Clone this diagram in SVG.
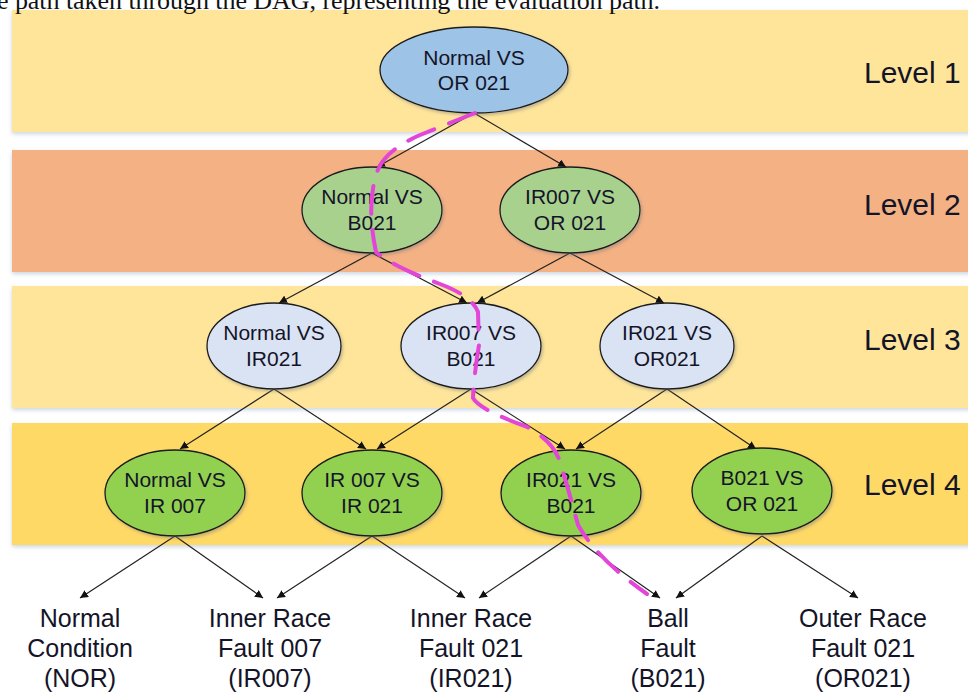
<svg xmlns="http://www.w3.org/2000/svg" width="968" height="695" viewBox="0 0 968 695">
<style>
.band{filter:url(#sh)}
.node ellipse{stroke:#1a1a1a;stroke-width:1.3}
.nt{font-family:"Liberation Sans",Arial,sans-serif;font-size:21px;fill:#141428;text-anchor:middle}
.lv{font-family:"Liberation Sans",Arial,sans-serif;font-size:30px;fill:#141428}
.lb{font-family:"Liberation Sans",Arial,sans-serif;font-size:25px;fill:#141428;text-anchor:middle}
.e{stroke:#222;stroke-width:1.2;fill:none;marker-end:url(#ah)}
.path{stroke:#e245d8;stroke-width:4;fill:none;stroke-dasharray:28 16;stroke-linecap:round}
</style>
<defs>
<filter id="sh" x="-5%" y="-10%" width="110%" height="130%">
<feDropShadow dx="0" dy="2" stdDeviation="2" flood-color="#8fa3c0" flood-opacity="0.45"/>
</filter>
<filter id="nsh" x="-10%" y="-10%" width="125%" height="130%">
<feDropShadow dx="1.5" dy="2" stdDeviation="1.5" flood-color="#7a7a7a" flood-opacity="0.45"/>
</filter>
<marker id="ah" viewBox="0 0 10 10" refX="10" refY="5" markerWidth="8" markerHeight="8" markerUnits="userSpaceOnUse" orient="auto">
<path d="M0,0 L10,5 L0,10 z" fill="#111"/>
</marker>
</defs>
<rect width="968" height="695" fill="#ffffff"/>

<g id="bands">
<rect class="band" x="12" y="10" width="960" height="122" fill="#fee59a"/>
<rect class="band" x="12" y="150" width="960" height="122" fill="#f4b183"/>
<rect class="band" x="12" y="286" width="960" height="122" fill="#fee59a"/>
<rect class="band" x="12" y="423" width="960" height="122" fill="#ffd966"/>
<text class="lv" x="864" y="83">Level 1</text>
<text class="lv" x="864" y="215">Level 2</text>
<text class="lv" x="864" y="350">Level 3</text>
<text class="lv" x="864" y="495">Level 4</text>
</g>
<text x="-3" y="9" font-family="'Liberation Serif','Times New Roman',serif" font-size="26" fill="#111" textLength="663" lengthAdjust="spacing">e path taken through the DAG, representing the evaluation path.</text>

<g id="connectors">
<line class="e" x1="474" y1="113" x2="377" y2="167"/>
<line class="e" x1="474" y1="113" x2="566" y2="167"/>
<line class="e" x1="372" y1="253" x2="279" y2="303"/>
<line class="e" x1="372" y1="253" x2="467" y2="303"/>
<line class="e" x1="570" y1="253" x2="477" y2="303"/>
<line class="e" x1="570" y1="253" x2="664" y2="303"/>
<line class="e" x1="274" y1="389" x2="180" y2="449"/>
<line class="e" x1="274" y1="389" x2="366" y2="449"/>
<line class="e" x1="471" y1="389" x2="377" y2="449"/>
<line class="e" x1="471" y1="389" x2="565" y2="449"/>
<line class="e" x1="667" y1="389" x2="576" y2="449"/>
<line class="e" x1="667" y1="389" x2="756" y2="449"/>
<line class="e" x1="175" y1="536" x2="80" y2="598"/>
<line class="e" x1="175" y1="536" x2="263" y2="598"/>
<line class="e" x1="372" y1="536" x2="277" y2="598"/>
<line class="e" x1="372" y1="536" x2="465" y2="598"/>
<line class="e" x1="571" y1="536" x2="479" y2="598"/>
<line class="e" x1="571" y1="536" x2="660" y2="598"/>
<line class="e" x1="762" y1="536" x2="676" y2="598"/>
<line class="e" x1="762" y1="536" x2="858" y2="598"/>
</g>

<g id="n1" class="node">
<ellipse cx="474" cy="70" rx="94" ry="43" fill="#9dc3e6" filter="url(#nsh)"/>
<text class="nt" x="474" y="65">Normal VS</text>
<text class="nt" x="474" y="90">OR 021</text>
</g>
<g id="n2a" class="node">
<ellipse cx="372" cy="210" rx="70" ry="43" fill="#a9d18e" filter="url(#nsh)"/>
<text class="nt" x="372" y="204">Normal VS</text>
<text class="nt" x="372" y="230">B021</text>
</g>
<g id="n2b" class="node">
<ellipse cx="570" cy="210" rx="70" ry="43" fill="#a9d18e" filter="url(#nsh)"/>
<text class="nt" x="570" y="204">IR007 VS</text>
<text class="nt" x="570" y="230">OR 021</text>
</g>
<g id="n3a" class="node">
<ellipse cx="274" cy="346" rx="67" ry="43" fill="#dae3f3" filter="url(#nsh)"/>
<text class="nt" x="274" y="340">Normal VS</text>
<text class="nt" x="274" y="366">IR021</text>
</g>
<g id="n3b" class="node">
<ellipse cx="471" cy="346" rx="70" ry="43" fill="#dae3f3" filter="url(#nsh)"/>
<text class="nt" x="471" y="340">IR007 VS</text>
<text class="nt" x="471" y="366">B021</text>
</g>
<g id="n3c" class="node">
<ellipse cx="667" cy="346" rx="67" ry="43" fill="#dae3f3" filter="url(#nsh)"/>
<text class="nt" x="667" y="340">IR021 VS</text>
<text class="nt" x="667" y="366">OR021</text>
</g>
<g id="n4a" class="node">
<ellipse cx="175" cy="493" rx="70" ry="43" fill="#92d050" filter="url(#nsh)"/>
<text class="nt" x="175" y="487">Normal VS</text>
<text class="nt" x="175" y="513">IR 007</text>
</g>
<g id="n4b" class="node">
<ellipse cx="372" cy="493" rx="70" ry="43" fill="#92d050" filter="url(#nsh)"/>
<text class="nt" x="372" y="487">IR 007 VS</text>
<text class="nt" x="372" y="513">IR 021</text>
</g>
<g id="n4c" class="node">
<ellipse cx="571" cy="493" rx="70" ry="43" fill="#92d050" filter="url(#nsh)"/>
<text class="nt" x="571" y="487">IR021 VS</text>
<text class="nt" x="571" y="513">B021</text>
</g>
<g id="n4d" class="node">
<ellipse cx="762" cy="491" rx="70" ry="43" fill="#92d050" filter="url(#nsh)"/>
<text class="nt" x="762" y="485">B021 VS</text>
<text class="nt" x="762" y="511">OR 021</text>
</g>

<g id="l1"><text class="lb" x="80" y="627">Normal</text><text class="lb" x="80" y="657">Condition</text><text class="lb" x="80" y="687">(NOR)</text></g>
<g id="l2"><text class="lb" x="270" y="627">Inner Race</text><text class="lb" x="270" y="657">Fault 007</text><text class="lb" x="270" y="687">(IR007)</text></g>
<g id="l3"><text class="lb" x="471" y="627">Inner Race</text><text class="lb" x="471" y="657">Fault 021</text><text class="lb" x="471" y="687">(IR021)</text></g>
<g id="l4"><text class="lb" x="668" y="627">Ball</text><text class="lb" x="668" y="657">Fault</text><text class="lb" x="668" y="687">(B021)</text></g>
<g id="l5"><text class="lb" x="863" y="627">Outer Race</text><text class="lb" x="863" y="657">Fault 021</text><text class="lb" x="863" y="687">(OR021)</text></g>

<g id="evalpath">
<path class="path" d="M475 113 L420 135 Q385 150 377 172 Q366 205 376 252 Q392 266 440 284 Q472 296 478 312 L479 345 Q474 375 473 398 Q480 410 525 426 Q553 440 560 462 Q570 495 578 525 Q598 560 647 594"/>
</g>
</svg>
